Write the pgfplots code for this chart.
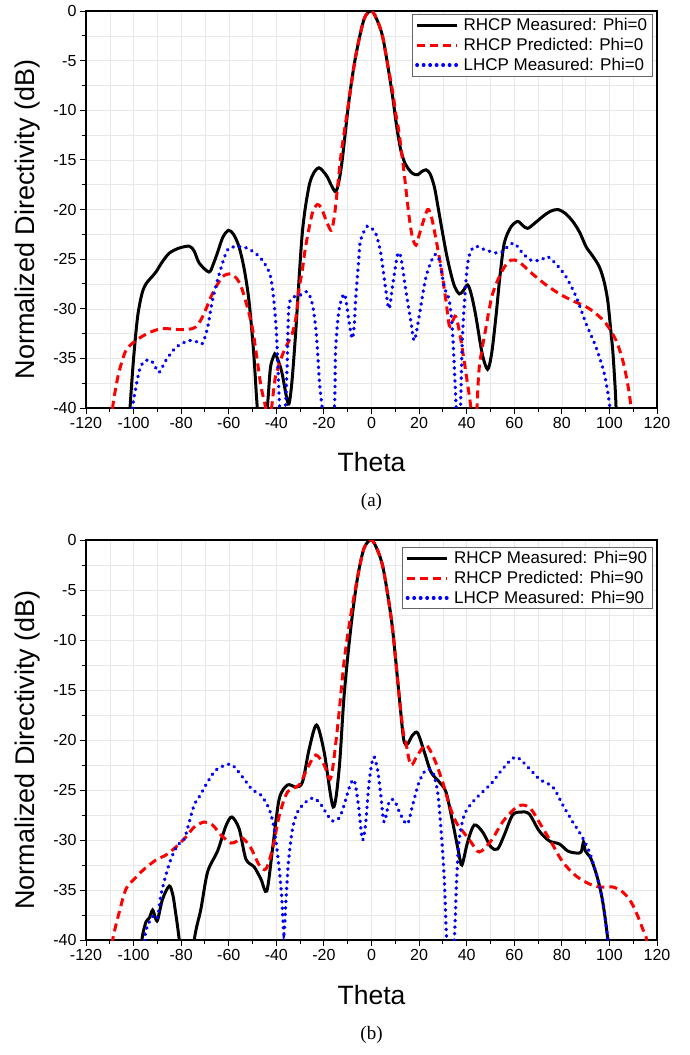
\documentclass[border=0pt]{standalone}
\usepackage{fontspec}
\setmainfont{Liberation Sans}
\newfontfamily\capfont{Liberation Serif}
\usepackage{pgfplots}
\pgfplotsset{compat=1.18}

\pgfplotsset{
  pat/.style={
    scale only axis,
    width=571pt,
    xmin=-120, xmax=120, ymin=-40, ymax=0,
    xtick={-120,-100,...,120},
    ytick={-40,-35,...,0},
    minor x tick num=1, minor y tick num=1,
    grid=both,
    grid style={gray!18, line width=0.5pt},
    minor grid style={gray!18, line width=0.5pt},
    axis line style={line width=1.2pt},
    tick pos=left, tick align=outside,
    major tick length=6pt, minor tick length=3.5pt,
    tick style={black, line width=1pt},
    ticklabel style={font=\fontsize{16}{16}\selectfont},
    /pgf/number format/assume math mode=true,
    xlabel={Theta}, ylabel={Normalized Directivity (dB)},
    xlabel style={font=\fontsize{26.5}{26.5}\selectfont, anchor=center},
    ylabel style={font=\fontsize{27}{27}\selectfont, anchor=center},
    legend cell align=left,
    legend style={draw=black!60, line width=0.8pt, fill=white,
      font=\fontsize{17}{17}\selectfont, row sep=2pt,
      inner xsep=3pt, inner ysep=2pt, anchor=north east},
    legend image code/.code={\draw[#1] (0pt,0pt) -- (40pt,0pt); \path (43pt,0pt);},
  },
  meas/.style={black, line width=3pt, smooth, tension=0.5, no markers},
  pred/.style={red, line width=3pt, dash pattern=on 8pt off 5pt, smooth, tension=0.5, no markers},
  lhcp/.style={blue, line width=3.4pt, line cap=round, dash pattern=on 0.5pt off 6pt, smooth, tension=0.5, no markers},
}

\begin{document}
\begin{tikzpicture}
\path[use as bounding box] (0,0) rectangle (689pt,-1055pt);

% (a) Phi = 0
\begin{axis}[pat, height=397pt, at={(86pt,-408pt)}, anchor=south west,
  xlabel style={at={(axis description cs:0.5,-0.136)}},
  ylabel style={at={(axis description cs:-0.1016,0.475)}},
  legend style={at={(rel axis cs:0.992,0.992)}}]
\addplot[meas] coordinates {
(-102.5,-44) (-101.5,-40) (-100,-35) (-98.3,-30.8) (-96.5,-28.5) (-94.8,-27.5) (-92,-26.7)
(-90.6,-26.3) (-88,-25.3) (-85,-24.4) (-81,-23.9) (-76.6,-23.7) (-74.5,-24.2) (-72.4,-25.4)
(-68.3,-26.3) (-66.5,-25.5) (-64.8,-24.4) (-62.5,-22.8) (-60.1,-22.1) (-58,-22.5) (-55.7,-23.75)
(-53.5,-26) (-51.5,-29.2) (-49.5,-34.5) (-48,-40) (-46,-45) (-43.8,-40) (-42.5,-36)
(-41,-34.7) (-40.3,-34.6) (-38.8,-35.5) (-37.5,-36.6) (-35.8,-38.8) (-34.7,-39.6) (-33.5,-37.5)
(-31.9,-32.5) (-29.1,-22.4) (-26.3,-17.7) (-24,-16.2) (-22.1,-15.8) (-20.5,-16.1) (-18.6,-16.7)
(-16.8,-17.6) (-15.1,-18.2) (-13.8,-17.3) (-12.3,-15) (-9.4,-8.9) (-6.6,-4.5) (-3.1,-0.8)
(0,0) (2.5,-1) (4.6,-2.5) (6.5,-5) (8.8,-8.5) (10.5,-11.5) (12.3,-14) (14,-15.3) (15.8,-16)
(17.5,-16.4) (19.4,-16.5) (21,-16.2) (22.9,-16) (24.6,-16.4) (26.4,-17.7) (28,-19.8) (29.9,-22.4)
(31.6,-24.6) (33.4,-26.5) (35,-27.8) (36.9,-28.5) (38.5,-28.2) (40.4,-27.6) (42,-28.6)
(43.9,-30.8) (46.5,-34.5) (48.8,-36.1) (50.5,-34.5) (52.3,-30.8) (54,-26.7) (55.8,-23.4)
(58.5,-21.8) (61.4,-21.2) (63.5,-21.6) (65.6,-21.9) (68.5,-21.4) (72,-20.7) (75,-20.2)
(78.3,-20) (81.5,-20.4) (84.6,-21.2) (87.5,-22.3) (90.2,-23.75) (93,-24.7) (95.8,-25.8)
(97.8,-27.3) (99.3,-29.2) (100.5,-32) (101.4,-34.2) (102.3,-37.5) (102.8,-40) (103.3,-44)
};
\addlegendentry{RHCP Measured: Phi=0}
\addplot[pred] coordinates {
(-110,-44) (-108.8,-40) (-107.5,-38) (-106,-36.25) (-103.2,-34.2) (-99,-33.2) (-93.4,-32.4)
(-87.8,-32) (-80.8,-32.1) (-75.2,-32) (-73,-31.6) (-71,-30.8) (-69,-29.7) (-66.9,-28.5)
(-62.7,-26.8) (-59.2,-26.5) (-56.5,-27) (-54.3,-28.1) (-50.1,-31.9) (-46.6,-37.6) (-44.5,-40)
(-43.3,-43) (-42,-40) (-40.5,-37) (-39.6,-36.2) (-38,-35) (-36.1,-33.9) (-33.3,-32.5)
(-31.5,-30.5) (-30.5,-28.1) (-29,-26) (-27.7,-23.75) (-24.9,-20.4) (-22.8,-19.5) (-21.2,-19.8)
(-19.7,-20.7) (-18.2,-21.6) (-16.9,-22.1) (-15.8,-21) (-14.8,-19) (-12.7,-14.3) (-9.4,-8.9)
(-6.6,-4.5) (-3.1,-0.8) (0,0) (2.5,-1) (4.6,-2.5) (6.5,-5) (8.8,-8) (10.3,-10.5) (11.6,-12.3)
(13.7,-16.3) (15.8,-20.7) (17.2,-22.8) (18.7,-23.6) (20,-22.6) (21.5,-21.4) (23.6,-20)
(25,-20.6) (26.4,-22.1) (29.2,-25.8) (31.3,-29.2) (32.7,-31.7) (34,-31.3) (35.5,-30.8)
(37.6,-33.2) (40.4,-37.6) (41.8,-40) (43.1,-43) (44.3,-40) (45.3,-35.9) (48.1,-31.9)
(50.9,-28.5) (55.1,-26.1) (58.6,-25.1) (62.1,-25.3) (67.7,-26.5) (73.4,-27.6) (79,-28.5)
(84.6,-29.2) (90.2,-29.8) (94.4,-30.5) (98.6,-31.5) (102.8,-33.2) (105.6,-35.2) (107.7,-37.6)
(109.1,-40) (110,-43)
};
\addlegendentry{RHCP Predicted: Phi=0}
\addplot[lhcp] coordinates {
(-101,-44) (-100.4,-40) (-99,-37.9) (-97.6,-36.25) (-96,-35.4) (-94.8,-35.2) (-92.7,-35.2)
(-91,-35.8) (-89.2,-36.4) (-86.4,-35.2) (-82.2,-33.9) (-76.6,-33.2) (-72.5,-33.4) (-71,-33.5)
(-68.9,-31.9) (-66.9,-29.2) (-64,-26.5) (-60.6,-24.1) (-57,-23.75) (-52.2,-23.9) (-46.6,-24.9)
(-42.4,-26.8) (-40.3,-31.2) (-39.3,-35.9) (-38.6,-40) (-37.4,-43) (-36.2,-40) (-35.5,-36)
(-34.7,-29.8) (-32.6,-28.8) (-29.8,-28.6) (-27,-28.3) (-24.9,-29.5) (-23.2,-32.5) (-21.8,-37.6)
(-20.7,-40) (-18,-45) (-15.6,-40) (-15.1,-34.2) (-13.7,-30.2) (-11.6,-28.5) (-10.5,-29.5)
(-9.5,-31.2) (-8.1,-33) (-7.2,-31.5) (-6.7,-29.2) (-5.5,-25.5) (-4.6,-23.1) (-1.8,-21.7)
(0,-21.9) (1.8,-22.4) (3.9,-24.4) (6,-28.1) (7.4,-30) (8.8,-27.8) (10.9,-24.6) (12.3,-24.75)
(14.4,-28.1) (16.5,-31.2) (18,-33.2) (20,-30.8) (22.9,-26.8) (26.4,-24.6) (28.5,-25.1)
(30.6,-27.8) (32.7,-29.2) (34.1,-32.5) (35.6,-40) (36.5,-44) (37.4,-40) (38.3,-32.5)
(40.4,-25.5) (43.2,-23.75) (48.1,-24.1) (53.7,-24.4) (57,-23.8) (60,-23.4) (63.5,-24.4)
(67,-25.1) (71.2,-25.1) (74,-24.75) (77.6,-25.5) (81.8,-26.8) (86,-28.8) (90.2,-31.5)
(94.4,-33.9) (97.9,-36.6) (100.2,-40) (101,-44)
};
\addlegendentry{LHCP Measured: Phi=0}
\end{axis}
\node[font=\capfont\fontsize{19}{19}\selectfont] at (371.5pt,-502pt) {(a)};

% (b) Phi = 90
\begin{axis}[pat, height=400pt, at={(86pt,-940pt)}, anchor=south west,
  xlabel style={at={(axis description cs:0.5,-0.1375)}},
  ylabel style={at={(axis description cs:-0.1016,0.475)}},
  legend style={at={(rel axis cs:0.992,0.9825)}}]
\addplot[meas] coordinates {
(-97.5,-44) (-96.5,-40) (-94.8,-38.2) (-93.4,-37.8) (-92,-37) (-90.8,-37.8) (-89.9,-38)
(-87.8,-35.9) (-85,-34.6) (-83.5,-35.5) (-82.5,-37) (-80.8,-40) (-77.6,-47) (-74.5,-40)
(-71.7,-36.9) (-68.9,-33.2) (-64.7,-31.1) (-61.2,-28.6) (-58.7,-27.7) (-55.6,-28.9)
(-52.8,-31.9) (-49.3,-32.7) (-46.5,-33.9) (-44,-35.1) (-41.6,-30.9) (-38.8,-25.9) (-35.3,-24.5)
(-31.8,-24.7) (-29,-24.2) (-26.2,-20.9) (-23.1,-18.5) (-19.9,-21.2) (-16.1,-26.7) (-13.6,-22.9)
(-11.5,-15.5) (-8.7,-8.8) (-5.9,-3.8) (-3.1,-0.8) (0,0) (2.5,-1) (4.6,-2.5) (6.5,-5)
(8.8,-8.8) (11.6,-15.5) (13.5,-19.9) (15.1,-20.4) (17.3,-19.5) (19.4,-19.3) (22.2,-21.2)
(25,-23.2) (28.5,-24.2) (31.3,-25.2) (34.1,-28.2) (36.6,-31.2) (38,-32.5) (40.4,-30.2)
(43.2,-28.5) (46.7,-29.2) (50.2,-30.7) (53,-30.9) (55.8,-29.5) (59.3,-27.5) (62.8,-27.2)
(66.3,-27.4) (70.5,-29.1) (74.8,-30.1) (79,-30.4) (82.5,-31.1) (86,-31.3) (88.1,-31.2)
(89.1,-30.2) (89.9,-31.1) (92.3,-31.9) (95.1,-33.9) (97.2,-36.2) (99.3,-40) (100,-44)
};
\addlegendentry{RHCP Measured: Phi=90}
\addplot[pred] coordinates {
(-110,-43) (-108.8,-40) (-106,-37.2) (-103.2,-34.9) (-99.7,-33.9) (-95.5,-32.9) (-90.6,-32)
(-86.4,-31.5) (-82.2,-30.7) (-78,-29.7) (-74.5,-28.7) (-70.3,-28.2) (-66.8,-28.5) (-63.3,-29.5)
(-59.1,-30.3) (-56.5,-30.1) (-54.2,-29.8) (-50.7,-30.8) (-47.2,-32.5) (-44.4,-32.9)
(-41.6,-30.9) (-38.8,-27.6) (-35.3,-25.2) (-30.4,-24.5) (-26.9,-22.8) (-23.4,-21.5)
(-19.9,-22.5) (-17.1,-23.8) (-14.3,-18.8) (-11.5,-12.1) (-8.7,-7.5) (-5.9,-3.8) (-3.1,-0.8)
(0,0) (2.5,-1) (4.6,-2.5) (6.5,-5) (8.8,-8.8) (11.6,-15.5) (13.5,-19.5) (14.4,-20.2)
(16.5,-22.5) (19.4,-21.5) (22.9,-20.5) (26.4,-21.9) (29.9,-24.2) (32.7,-26.5) (35.5,-28.2)
(38.3,-29.1) (41.8,-30.2) (45.3,-31.2) (50.2,-30.1) (55.1,-28.2) (60,-26.9) (63.5,-26.5)
(67,-26.9) (71.2,-28.5) (75.5,-30.2) (80.4,-32.2) (86,-33.6) (91.6,-34.4) (95.8,-34.7)
(101.4,-34.7) (105.6,-35.2) (109.1,-36.2) (111.9,-37.6) (114,-38.9) (115.4,-39.7) (116,-40.5)
};
\addlegendentry{RHCP Predicted: Phi=90}
\addplot[lhcp] coordinates {
(-96,-44) (-95.2,-39.6) (-93.4,-38.2) (-91.3,-37.5) (-89.9,-37.7) (-88.5,-35.5) (-86.4,-33.5)
(-84.3,-31.9) (-81.5,-30.5) (-78.7,-29.9) (-76.6,-28.2) (-74.5,-26.5) (-71.7,-25.4)
(-68.9,-24.2) (-65.4,-23) (-61.2,-22.5) (-58.4,-22.5) (-54.2,-23.7) (-50,-25) (-46.5,-25.5)
(-43,-26.9) (-40.9,-28.9) (-39.1,-32.2) (-37.8,-35.5) (-36.8,-39.4) (-36,-36.2) (-34.9,-32.2)
(-33.2,-28.9) (-31.1,-27.2) (-27.6,-26.2) (-24.8,-25.8) (-22,-26.2) (-18.5,-27.5)
(-16.4,-28.1) (-13.6,-27.8) (-11.5,-26.5) (-9.4,-24.8) (-7.3,-24) (-5.5,-26.5) (-3.8,-30)
(-2.4,-28.2) (-1,-24.2) (0.8,-21.7) (2.5,-22.9) (3.9,-25.5) (5.3,-28.2) (7.4,-26.2)
(9.5,-26) (12.3,-27.5) (15.1,-28.4) (17.3,-26.5) (20,-24.2) (22.9,-23) (25.7,-23.2)
(27.8,-25.2) (29.2,-28.9) (30.6,-33.9) (31.6,-40) (33.2,-44) (34.8,-40) (35.8,-33.9)
(36.9,-29.9) (39,-27.5) (42.5,-26.2) (46.7,-25.2) (50.9,-24.2) (55.1,-22.9) (60.4,-21.7)
(64.9,-22.5) (70.5,-23.9) (76.2,-24.7) (80.4,-26.5) (84.6,-28.2) (88.1,-29.5) (91.6,-31.2)
(95.1,-33.9) (97.2,-36.2) (99.3,-40) (100,-44)
};
\addlegendentry{LHCP Measured: Phi=90}
\end{axis}
\node[font=\capfont\fontsize{19}{19}\selectfont] at (371.5pt,-1035pt) {(b)};
\end{tikzpicture}
\end{document}
